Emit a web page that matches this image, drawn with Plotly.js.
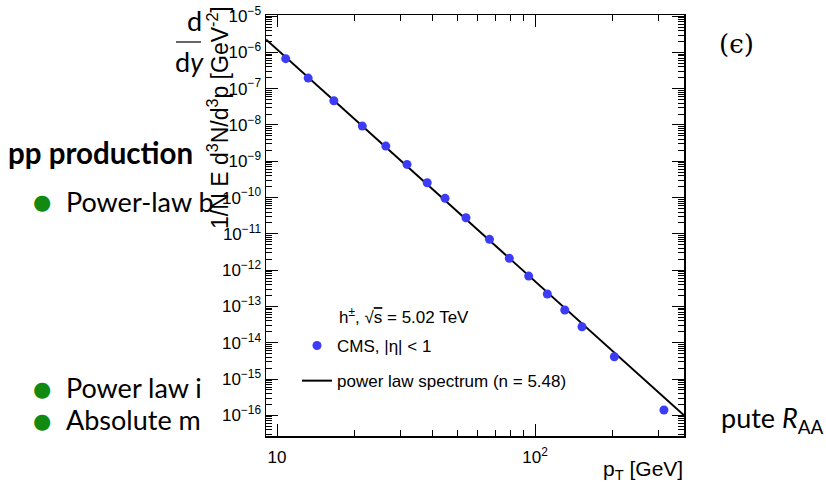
<!DOCTYPE html>
<html><head><meta charset="utf-8">
<script src="https://cdn.plot.ly/plotly-3.0.1.min.js"></script>
<style>html,body{margin:0;padding:0;background:#fff;}#chart{width:826px;height:492px;}</style>
</head><body><div id="chart"></div>
<script>
// ---- data ----
const ptCMS = [10.8, 13.2, 16.6, 21.4, 26.4, 31.9, 38.2, 44.8, 54.0, 66.6, 79.5, 94.5, 111.6, 130.4, 152.1, 203, 316];
const yieldCMS = [6.7e-7, 1.96e-7, 4.64e-8, 9.3e-9, 2.62e-9, 8.2e-10, 2.56e-10, 9.5e-11, 2.78e-11, 7.05e-12, 2.11e-12, 6.87e-13, 2.2e-13, 7.96e-14, 2.76e-14, 4.11e-15, 1.4e-16];
const ptPowerLaw = [9.06, 378];
const yieldPowerLaw = [2.28e-6, 1.0e-16];
const yTickVals = [1e-16, 1e-15, 1e-14, 1e-13, 1e-12, 1e-11, 1e-10, 1e-9, 1e-8, 1e-7, 1e-6, 1e-5];
const yTickText = ["10<sup>−16</sup>", "10<sup>−15</sup>", "10<sup>−14</sup>", "10<sup>−13</sup>", "10<sup>−12</sup>", "10<sup>−11</sup>", "10<sup>−10</sup>", "10<sup>−9</sup>", "10<sup>−8</sup>", "10<sup>−7</sup>", "10<sup>−6</sup>", "10<sup>−5</sup>"];
const xTickVals = [10, 100];
const xTickText = ["10", "10<sup>2</sup>"];
const xMinorVals = [20, 30, 40, 50, 60, 70, 80, 90, 200, 300];
const cmsName = "CMS, |η| &lt; 1";
const lineName = "power law spectrum (n = 5.48)";

// minor y ticks (2..9 per decade)
const yMinorVals = [];
for (let e = -17; e <= -6; e++) for (let m = 2; m <= 9; m++) yMinorVals.push(m * Math.pow(10, e));

// ---- layout helpers (pixel -> paper) ----
const L = 266, R = 684, T = 15, B = 436;
const px = x => (x - L) / (R - L);
const py = y => (B - y) / (B - T);

const rootFont = {family: 'Liberation Sans, Arial, sans-serif', color: '#000'};
const slideFont = {family: 'Lato, sans-serif', color: '#000'};

const traces = [
  {x: ptPowerLaw, y: yieldPowerLaw, type: 'scatter', mode: 'lines', name: lineName,
   line: {color: '#000', width: 2}, legendrank: 2, legendgroup: 'b'},
  {x: ptCMS, y: yieldCMS, type: 'scatter', mode: 'markers', name: cmsName,
   marker: {color: '#3c3cf7', size: 9, line: {width: 0}}, legendrank: 1, legendgroup: 'a'}
];

function ann(text, x, y, size, opts) {
  return Object.assign({text: text, x: px(x), y: py(y), xref: 'paper', yref: 'paper', showarrow: false,
    xanchor: 'left', yanchor: 'middle', font: Object.assign({}, slideFont, {size: size})}, opts || {});
}
const bulletFont = {family: 'DejaVu Sans', size: 21, color: '#128a12'};

const annotations = [
  ann('<b>pp production</b>', 6, 152, 29.5),
  ann('●', 42, 202, 21, {xanchor: 'center', font: bulletFont}),
  ann('●', 42, 389, 21, {xanchor: 'center', font: bulletFont}),
  ann('●', 42, 421, 21, {xanchor: 'center', font: bulletFont}),
  ann('Power-law b', 64, 201, 27),
  ann('Power law i', 64, 387, 27),
  ann('Absolute m', 64, 419, 27),
  ann('pute <i>R</i><sub>AA</sub>', 719, 419, 27),
  ann('(ϵ)', 717, 44, 26, {font: {family: 'DejaVu Serif', size: 26, color: '#000'}}),
  ann('d', 194, 20, 27, {xanchor: 'center'}),
  ann('d<i>y</i>', 189, 61, 27, {xanchor: 'center'}),
  // ROOT axis titles
  ann('1/N E d<sup>3</sup>N/d<sup>3</sup>p [GeV<sup>-2</sup>]', 218, 118, 23,
      {xanchor: 'center', textangle: -90, font: Object.assign({}, rootFont, {size: 23})}),
  ann('p<sub>T</sub> [GeV]', 685, 470, 21, {xanchor: 'right', font: Object.assign({}, rootFont, {size: 21})}),
  // legend header
  ann('h<sup>±</sup>, √<span style="text-decoration:overline">s</span> = 5.02 TeV', 337, 316, 17,
      {font: Object.assign({}, rootFont, {size: 17})})
];

const axisCommon = {
  type: 'log', tickmode: 'array', ticks: 'inside', ticklen: 12, tickwidth: 1, tickcolor: '#000',
  showline: true, linecolor: '#000', linewidth: 1.5, mirror: 'ticks', showgrid: false, zeroline: false,
  tickfont: Object.assign({}, rootFont, {size: 17})
};

const layout = {
  width: 826, height: 492,
  margin: {l: L, r: 826 - R, t: T, b: 492 - B, pad: 0},
  paper_bgcolor: '#fff', plot_bgcolor: '#fff',
  showlegend: true,
  xaxis: Object.assign({}, axisCommon, {
    range: [Math.log10(9.06), Math.log10(378)], tickvals: xTickVals, ticktext: xTickText,
    ticklabelstandoff: 5,
    minor: {tickmode: 'array', tickvals: xMinorVals, ticks: 'inside', ticklen: 6, tickwidth: 1, tickcolor: '#000', showgrid: false}
  }),
  yaxis: Object.assign({}, axisCommon, {
    range: [-16.57, -4.97], tickvals: yTickVals, ticktext: yTickText,
    minor: {tickmode: 'array', tickvals: yMinorVals, ticks: 'inside', ticklen: 6, tickwidth: 1, tickcolor: '#000', showgrid: false}
  }),
  legend: {x: px(297), y: py(328), xanchor: 'left', yanchor: 'top', bgcolor: 'rgba(0,0,0,0)',
           font: Object.assign({}, rootFont, {size: 17}), tracegroupgap: 10, itemwidth: 30},
  shapes: [
    {type: 'line', xref: 'paper', yref: 'paper', x0: px(176), x1: px(201), y0: py(42), y1: py(42),
     line: {color: '#000', width: 1.2}}
  ],
  annotations: annotations
};

Plotly.newPlot('chart', traces, layout, {displayModeBar: false, staticPlot: true});
</script>
</body></html>
